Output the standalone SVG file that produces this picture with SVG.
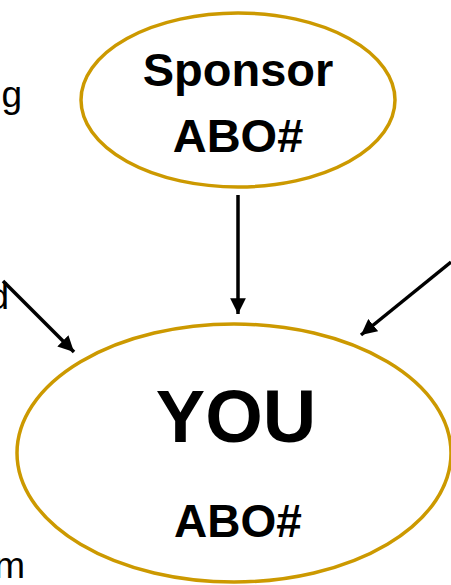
<svg xmlns="http://www.w3.org/2000/svg" width="451" height="585" viewBox="0 0 451 585">
<defs>
<marker id="ah" viewBox="0 0 10 10" refX="10" refY="5" markerWidth="4.5" markerHeight="4.5" markerUnits="strokeWidth" orient="auto">
<path d="M0,0 L10,5 L0,10 z" fill="#000"/>
</marker>
<style>
.ell{fill:#fff;stroke:#CC9900;stroke-width:3.5}
.lbl{font-family:"Liberation Sans",Arial,sans-serif;font-weight:bold;fill:#000;text-anchor:middle}
.side{font-family:"Liberation Sans",Arial,sans-serif;font-size:37px;fill:#000;text-anchor:end}
.con{stroke:#000;stroke-width:3.5;fill:none;marker-end:url(#ah)}
</style>
</defs>
<rect width="451" height="585" fill="#fff"/>
<text class="side" x="22" y="107">g</text>
<text class="side" x="9" y="309">d</text>
<text class="side" x="25" y="578">m</text>
<g id="connectors">
<line class="con" x1="238" y1="195" x2="238" y2="314"/>
<line class="con" x1="3" y1="281" x2="74" y2="352"/>
<line class="con" x1="451" y1="262" x2="361" y2="335"/>
</g>
<g id="sponsor">
<ellipse class="ell" cx="238" cy="100" rx="157" ry="87"/>
<text class="lbl" x="238" y="86" font-size="47">Sponsor</text>
<text class="lbl" x="238" y="152" font-size="47">ABO#</text>
</g>
<g id="you">
<ellipse class="ell" cx="234" cy="453" rx="217" ry="129"/>
<text class="lbl" x="236" y="442" font-size="74">YOU</text>
<text class="lbl" x="238" y="537" font-size="46">ABO#</text>
</g>
</svg>
